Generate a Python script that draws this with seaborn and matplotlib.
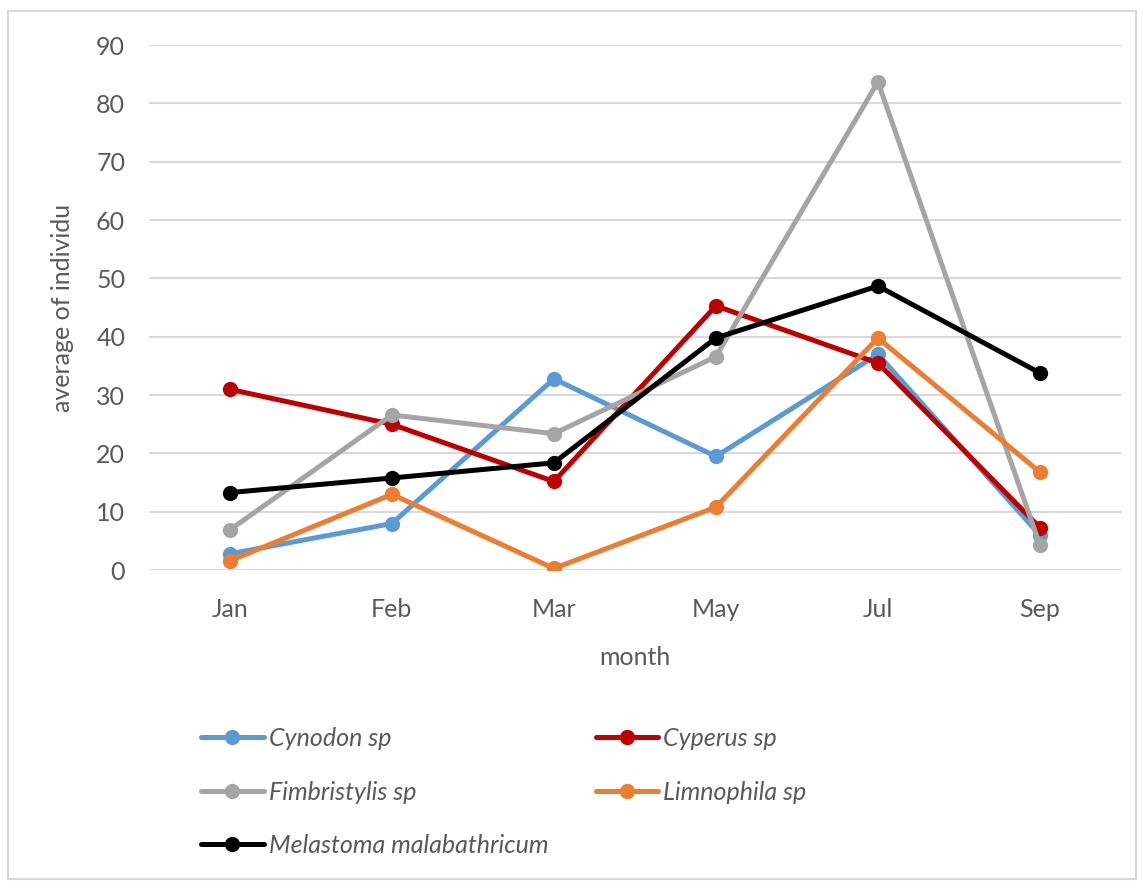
import pandas as pd
import matplotlib
matplotlib.use('Agg')
import matplotlib.pyplot as plt
import seaborn as sns
from matplotlib.patches import Rectangle

months = ['Jan', 'Feb', 'Mar', 'May', 'Jul', 'Sep']
species = ['Cynodon sp', 'Cyperus sp', 'Fimbristylis sp', 'Limnophila sp',
           'Melastoma malabathricum']

cynodon = [2.8, 8.0, 32.8, 19.5, 37.0, 6.0]
cyperus = [31.0, 25.0, 15.2, 45.3, 35.5, 7.3]
fimbristylis = [6.9, 26.6, 23.4, 36.6, 83.7, 4.3]
limnophila = [1.6, 13.0, 0.3, 10.8, 39.8, 16.8]
melastoma = [13.3, 15.8, 18.4, 39.8, 48.7, 33.8]

colors = ['#5B9BD5', '#C00000', '#A5A5A5', '#ED7D31', '#000000']

sns.set_style('white')
plt.rcParams['font.family'] = ['Lato', 'DejaVu Sans']

rows = []
for name, vals in zip(species, [cynodon, cyperus, fimbristylis, limnophila, melastoma]):
    for m, v in zip(months, vals):
        rows.append({'month': m, 'value': v, 'species': name})
df = pd.DataFrame(rows)

fig = plt.figure(figsize=(11.45, 8.84), dpi=100)
ax = fig.add_axes([0.130, 0.355, 0.849, 0.594])

sns.lineplot(data=df, x='month', y='value', hue='species', hue_order=species,
             palette=colors, marker='o', markersize=11, markeredgewidth=0,
             linewidth=3.6, sort=False, ax=ax, legend=False)

ax.set_xlim(-0.5, 5.5)
ax.set_ylim(0, 90)
ax.set_yticks(range(0, 91, 10))
ax.yaxis.grid(True, color='#D9D9D9', linewidth=1.5)
ax.set_axisbelow(True)
for s in ax.spines.values():
    s.set_visible(False)
ax.tick_params(axis='both', length=0, labelsize=18, labelcolor='#595959')
ax.tick_params(axis='x', pad=20)
ax.tick_params(axis='y', pad=17)
ax.set_xlabel('month', fontsize=18, color='#595959', labelpad=18)
ax.set_ylabel('average of individu', fontsize=18, color='#595959', labelpad=16)

handles = [plt.Line2D([], [], color=c, linewidth=3.6, marker='o', markersize=11,
                      markeredgewidth=0) for c in colors]
order = [0, 2, 4, 1, 3]
leg = fig.legend([handles[i] for i in order], [species[i] for i in order],
                 loc='upper left', bbox_to_anchor=(0.156, 0.203), ncol=2,
                 frameon=False, handlelength=2.5, handletextpad=0.2,
                 labelspacing=1.22, columnspacing=1.9,
                 prop={'size': 18, 'style': 'italic'})
for t in leg.get_texts():
    t.set_color('#595959')

fig.patches.append(Rectangle((0.007, 0.006), 0.985, 0.982, transform=fig.transFigure,
                             fill=False, edgecolor='#D9D9D9', linewidth=1.5))

fig.savefig('out.png', dpi=100)
